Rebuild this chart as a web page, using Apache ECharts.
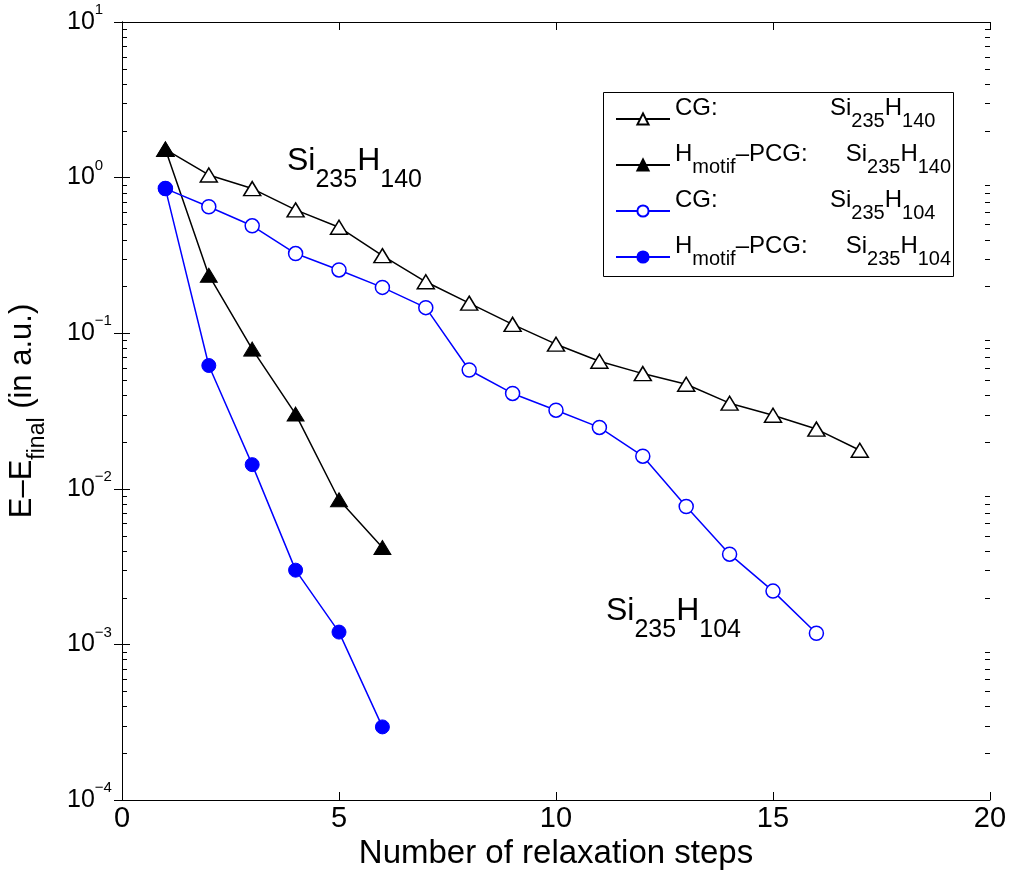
<!DOCTYPE html>
<html>
<head>
<meta charset="utf-8">
<script src="https://cdn.jsdelivr.net/npm/echarts@6/dist/echarts.min.js"></script>
<style>
  html, body { margin: 0; background: #fff; }
  #chart { width: 1010px; height: 877px; }
</style>
</head>
<body>
<div id="chart"></div>
<script>
// relaxation step vs E - E_final (a.u.)
const stepsCG140 = [1, 2, 3, 4, 5, 6, 7, 8, 9, 10, 11, 12, 13, 14, 15, 16, 17];
const errCG140 = [1.52, 1.04, 0.85, 0.62, 0.48, 0.315, 0.214, 0.156, 0.114, 0.085, 0.066, 0.055, 0.047, 0.0355, 0.0297, 0.0242, 0.0177];

const stepsPCG140 = [1, 2, 3, 4, 5, 6];
const errPCG140 = [1.52, 0.236, 0.079, 0.0302, 0.0085, 0.0042];

const stepsCG104 = [1, 2, 3, 4, 5, 6, 7, 8, 9, 10, 11, 12, 13, 14, 15, 16];
const errCG104 = [0.85, 0.65, 0.49, 0.325, 0.255, 0.197, 0.146, 0.058, 0.041, 0.032, 0.0248, 0.0162, 0.0077, 0.0038, 0.0022, 0.00118];

const stepsPCG104 = [1, 2, 3, 4, 5, 6];
const errPCG104 = [0.85, 0.062, 0.0143, 0.0030, 0.0012, 0.000295];

const seriesNames = ['CG140', 'PCG140', 'CG104', 'PCG104'];

// minor log ticks 2..9 x 10^n
const minorTicks = [];
for (let n = -4; n <= 0; n++) {
    for (let k = 2; k <= 9; k++) minorTicks.push(k * Math.pow(10, n));
}

const FONT = 'Liberation Sans';
const NARROW = "'Liberation Sans Narrow', 'Liberation Sans'";
const BLUE = '#0000ff';

function pairs(xs, ys) {
    return xs.map(function (x, i) { return [x, ys[i]]; });
}

const legendText = {
    CG140: '{m|CG:}{r|Si}{s|235}{r|H}{s|140}',
    PCG140: '{r|H}{s|motif}{q|\u2013PCG:}{r|Si}{s|235}{r|H}{s|140}',
    CG104: '{m|CG:}{r|Si}{s|235}{r|H}{s|104}',
    PCG104: '{r|H}{s|motif}{q|\u2013PCG:}{r|Si}{s|235}{r|H}{s|104}'
};

const chart = echarts.init(document.getElementById('chart'));

const option = {
    animation: false,
    backgroundColor: '#fff',
    grid: { left: 122, right: 20, top: 22, bottom: 77, outerBoundsMode: 'none' },
    xAxis: [
        {
            type: 'value', min: 0, max: 20, interval: 5,
            name: 'Number of relaxation steps',
            nameLocation: 'middle', nameGap: 30,
            nameTextStyle: { fontFamily: FONT, fontSize: 33, color: '#000' },
            axisLine: { lineStyle: { color: '#000', width: 1 } },
            axisTick: { inside: true, length: 8, lineStyle: { color: '#000' } },
            axisLabel: { fontFamily: NARROW, fontSize: 29, color: '#000', margin: 4 },
            splitLine: { show: false }
        },
        {
            type: 'value', min: 0, max: 20, interval: 5, position: 'top',
            axisLine: { lineStyle: { color: '#000', width: 1 } },
            axisTick: { inside: true, length: 8, lineStyle: { color: '#000' } },
            axisLabel: { show: false },
            splitLine: { show: false }
        }
    ],
    yAxis: [
        {
            type: 'log', logBase: 10, min: 0.0001, max: 10, splitNumber: 5,
            name: '{a|E\u2013E}{s|final}{a| (in a.u.)}',
            nameLocation: 'middle', nameGap: 73, nameRotate: 90,
            nameTextStyle: {
                fontFamily: FONT, color: '#000',
                rich: {
                    a: { fontFamily: FONT, fontSize: 31, color: '#000' },
                    s: { fontFamily: FONT, fontSize: 23, color: '#000', padding: [30, 0, 0, 0] }
                }
            },
            axisLine: { lineStyle: { color: '#000', width: 1 } },
            axisTick: { inside: true, length: 8, lineStyle: { color: '#000' } },
            axisLabel: {
                margin: 55, align: 'left',
                formatter: function (v) {
                    const e = Math.round(Math.log10(v));
                    return '{b|10}{e|' + String(e).replace('-', '\u2212') + '}';
                },
                rich: {
                    b: { fontFamily: FONT, fontSize: 25, color: '#000' },
                    e: { fontFamily: FONT, fontSize: 15, color: '#000', padding: [0, 0, 24, 0] }
                }
            },
            splitLine: { show: false }
        },
        {
            type: 'log', logBase: 10, min: 0.0001, max: 10, splitNumber: 5, position: 'right',
            axisLine: { lineStyle: { color: '#000', width: 1 } },
            axisTick: { inside: true, length: 8, lineStyle: { color: '#000' } },
            axisLabel: { show: false },
            splitLine: { show: false }
        }
    ],
    legend: {
        data: seriesNames,
        orient: 'vertical',
        left: 615, top: 96,
        padding: 0,
        itemGap: 0,
        itemWidth: 54, itemHeight: 14,
        formatter: function (name) { return legendText[name]; },
        textStyle: {
            fontFamily: FONT, fontSize: 24, color: '#000', lineHeight: 45,
            rich: {
                m: { fontFamily: FONT, fontSize: 24, color: '#000', lineHeight: 45, width: 155, padding: [0, 0, 22, 0] },
                q: { fontFamily: FONT, fontSize: 24, color: '#000', lineHeight: 45, width: 110, padding: [0, 0, 22, 0] },
                r: { fontFamily: FONT, fontSize: 24, color: '#000', lineHeight: 45, padding: [0, 0, 22, 0] },
                s: { fontFamily: FONT, fontSize: 20, color: '#000', lineHeight: 45, padding: [4, 0, 0, 0] }
            }
        }
    },
    graphic: [
        {
            type: 'rect', z: 0, silent: true,
            shape: { x: 603.5, y: 92.5, width: 350, height: 184 },
            style: { fill: '#fff', stroke: '#000', lineWidth: 1 }
        },
        {
            type: 'text', left: 287, top: 145, z: 10,
            style: {
                text: '{a|Si}{b|235}{a|H}{b|140}',
                rich: {
                    a: { fontFamily: FONT, fontSize: 32, fill: '#000' },
                    b: { fontFamily: FONT, fontSize: 25, fill: '#000', padding: [39, 0, 0, 0] }
                }
            }
        },
        {
            type: 'text', left: 606, top: 595, z: 10,
            style: {
                text: '{a|Si}{b|235}{a|H}{b|104}',
                rich: {
                    a: { fontFamily: FONT, fontSize: 32, fill: '#000' },
                    b: { fontFamily: FONT, fontSize: 25, fill: '#000', padding: [39, 0, 0, 0] }
                }
            }
        }
    ],
    series: [
        {
            name: 'CG140', type: 'line', data: pairs(stepsCG140, errCG140),
            symbol: 'triangle', symbolSize: [17, 14],
            lineStyle: { color: '#000', width: 1.5 },
            itemStyle: { color: '#fff', borderColor: '#000', borderWidth: 1.5 }
        },
        {
            name: 'PCG140', type: 'line', data: pairs(stepsPCG140, errPCG140),
            symbol: 'triangle', symbolSize: [17, 14],
            lineStyle: { color: '#000', width: 1.5 },
            itemStyle: { color: '#000', borderColor: '#000', borderWidth: 1 }
        },
        {
            name: 'CG104', type: 'line', data: pairs(stepsCG104, errCG104),
            symbol: 'circle', symbolSize: 14,
            lineStyle: { color: BLUE, width: 1.5 },
            itemStyle: { color: '#fff', borderColor: BLUE, borderWidth: 1.5 }
        },
        {
            name: 'PCG104', type: 'line', data: pairs(stepsPCG104, errPCG104),
            symbol: 'circle', symbolSize: 14,
            lineStyle: { color: BLUE, width: 1.5 },
            itemStyle: { color: BLUE, borderColor: BLUE, borderWidth: 1 }
        },
        {
            type: 'custom', silent: true, z: 3,
            data: minorTicks.map(function (v) { return [0, v]; }),
            renderItem: function (params, api) {
                const y = Math.round(api.coord([0, api.value(1)])[1]) + 0.5;
                const cs = params.coordSys;
                return {
                    type: 'group',
                    children: [
                        { type: 'line', shape: { x1: cs.x, y1: y, x2: cs.x + 5, y2: y }, style: { stroke: '#000', lineWidth: 1 } },
                        { type: 'line', shape: { x1: cs.x + cs.width - 5, y1: y, x2: cs.x + cs.width, y2: y }, style: { stroke: '#000', lineWidth: 1 } }
                    ]
                };
            }
        }
    ]
};

chart.setOption(option);
</script>
</body>
</html>
